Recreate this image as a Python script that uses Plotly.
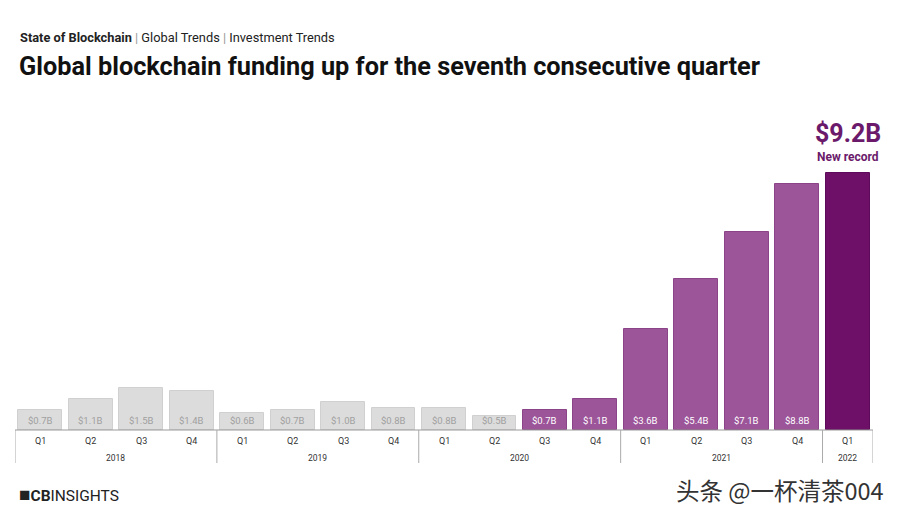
import plotly.graph_objects as go

years = ["2018"] * 4 + ["2019"] * 4 + ["2020"] * 4 + ["2021"] * 4 + ["2022"]
quarters = ["Q1", "Q2", "Q3", "Q4"] * 4 + ["Q1"]
values = [0.7, 1.1, 1.5, 1.4, 0.6, 0.7, 1.0, 0.8, 0.8, 0.5, 0.7, 1.1, 3.6, 5.4, 7.1, 8.8, 9.2]
labels = ["$0.7B", "$1.1B", "$1.5B", "$1.4B", "$0.6B", "$0.7B", "$1.0B", "$0.8B",
          "$0.8B", "$0.5B", "$0.7B", "$1.1B", "$3.6B", "$5.4B", "$7.1B", "$8.8B", ""]
# 0 = grey (before), 1 = purple, 2 = record
kinds = [0] * 10 + [1] * 6 + [2]

fill = {0: "#dcdcdc", 1: "#9c5599", 2: "#6e1068"}
edge = {0: "#d0d0d0", 1: "#8c4489", 2: "#5e0a5a"}
txtc = {0: "#a0a0a0", 1: "#ffffff", 2: "#ffffff"}

n = len(values)
xs = list(range(n))

# page has an 8px body margin; figure placed at (8, 8)
OFF = 8
W, H = 884, 501
ml, mr, mt, mb = 7, 19, 92, 79
pw = W - ml - mr
plot_h = H - mt - mb
ymax = 9.2 * plot_h / 257.0


def px(page_x):
    return (page_x - OFF - ml) / pw


def py(page_y):
    return (H - mb - (page_y - OFF)) / plot_h


fig = go.Figure()
fig.add_trace(go.Bar(
    x=xs, y=values, width=0.87,
    marker=dict(color=[fill[k] for k in kinds],
                line=dict(color=[edge[k] for k in kinds], width=1)),
    hoverinfo="skip",
))

annotations = []
for i, (lab, k) in enumerate(zip(labels, kinds)):
    if lab:
        annotations.append(dict(x=i, y=0, xref="x", yref="y", text=lab, showarrow=False,
                                yanchor="middle", yshift=10,
                                font=dict(size=9.5, color=txtc[k], family="Roboto")))
    annotations.append(dict(x=i, y=0, xref="x", yref="paper", text=quarters[i], showarrow=False,
                            yanchor="middle", yshift=-11,
                            font=dict(size=9, color="#333333", family="Roboto")))

# year groups
groups = []
for i, y in enumerate(years):
    if not groups or groups[-1][0] != y:
        groups.append([y, i, i])
    else:
        groups[-1][2] = i

shapes = [dict(type="line", xref="x", yref="paper", x0=-0.5, x1=n - 0.5, y0=0, y1=0,
               line=dict(color="#999999", width=1))]
bounds = sorted(set([g[1] - 0.5 for g in groups] + [g[2] + 0.5 for g in groups]))
for b in bounds:
    shapes.append(dict(type="line", xref="x", yref="paper", ysizemode="pixel", yanchor=0,
                       x0=b, x1=b, y0=0, y1=-33, line=dict(color="#aaaaaa", width=1)))
for y, a, b in groups:
    annotations.append(dict(x=(a + b) / 2, y=0, xref="x", yref="paper", text=y, showarrow=False,
                            yanchor="middle", yshift=-28,
                            font=dict(size=8.5, color="#333333", family="Roboto")))

# record label
annotations.append(dict(x=n - 1, y=values[-1], xref="x", yref="y", text="<b>$9.2B</b>",
                        showarrow=False, yanchor="middle", yshift=40,
                        font=dict(size=25, color="#6b1a6b", family="Roboto")))
annotations.append(dict(x=n - 1, y=values[-1], xref="x", yref="y", text="<b>New record</b>",
                        showarrow=False, yanchor="middle", yshift=16,
                        font=dict(size=12, color="#6b1a6b", family="Roboto")))

# header / footer (page pixel positions)
annotations.append(dict(x=px(18), y=py(37), xref="paper", yref="paper",
                        text="<b>State of Blockchain</b> <span style='color:#999'>|</span> Global Trends <span style='color:#999'>|</span> Investment Trends",
                        showarrow=False, xanchor="left", yanchor="middle",
                        font=dict(size=12.8, color="#222222", family="Roboto")))
annotations.append(dict(x=px(17), y=py(67), xref="paper", yref="paper",
                        text="<b>Global blockchain funding up for the seventh consecutive quarter</b>",
                        showarrow=False, xanchor="left", yanchor="middle",
                        font=dict(size=25.3, color="#111111", family="Roboto")))
annotations.append(dict(x=px(17), y=py(494), xref="paper", yref="paper",
                        text="<span style='font-size:19px'>■</span><b>CB</b>INSIGHTS", showarrow=False,
                        xanchor="left", yanchor="middle",
                        font=dict(size=15.5, color="#222222", family="Roboto")))
annotations.append(dict(x=px(886), y=py(490), xref="paper", yref="paper",
                        text="头条 @一杯清茶004", showarrow=False, xanchor="right", yanchor="middle",
                        font=dict(size=23.5, color="#333333", family="Noto Sans CJK SC")))

fig.update_layout(
    width=W, height=H, margin=dict(l=ml, r=mr, t=mt, b=mb),
    plot_bgcolor="white", paper_bgcolor="white",
    showlegend=False, bargap=0,
    xaxis=dict(range=[-0.5, n - 0.5], showticklabels=False, showgrid=False, zeroline=False,
               fixedrange=True),
    yaxis=dict(range=[0, ymax], visible=False, fixedrange=True),
    shapes=shapes, annotations=annotations,
)
fig.write_html("out.html")
